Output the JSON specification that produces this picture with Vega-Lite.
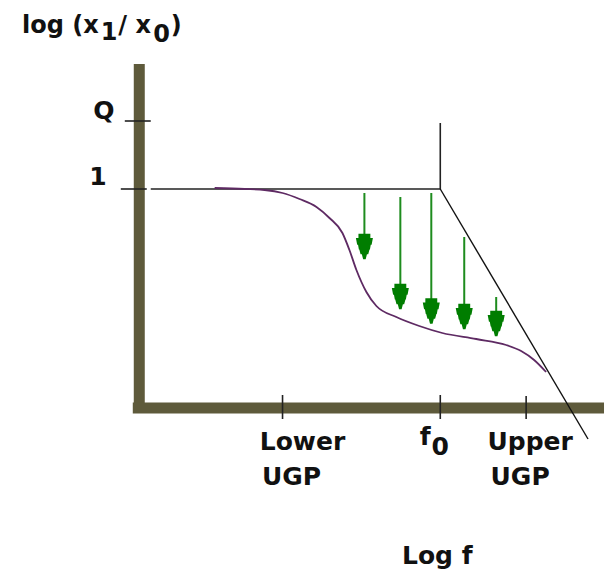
{
  "$schema": "https://vega.github.io/schema/vega-lite/v6.json",
  "width": 610,
  "height": 572,
  "autosize": {"type": "fit", "contains": "padding"},
  "padding": 0,
  "background": "white",
  "config": {"view": {"stroke": null}},
  "datasets": {
    "axes": [
      {"x": 139.5, "y": 64, "x2": 139.5, "y2": 413},
      {"x": 133, "y": 408, "x2": 605, "y2": 408}
    ],
    "thin": [
      {"x": 125, "y": 121, "x2": 151, "y2": 121},
      {"x": 121, "y": 189, "x2": 147, "y2": 189},
      {"x": 151, "y": 189, "x2": 441, "y2": 189},
      {"x": 441, "y": 123, "x2": 441, "y2": 189},
      {"x": 283, "y": 395, "x2": 283, "y2": 419},
      {"x": 441, "y": 395, "x2": 441, "y2": 419},
      {"x": 527, "y": 396, "x2": 527, "y2": 419}
    ],
    "diag": [
      {"x": 441, "y": 189, "x2": 589, "y2": 439}
    ],
    "curve": [
      {"x": 215, "y": 188}, {"x": 245, "y": 189}, {"x": 265, "y": 190},
      {"x": 283, "y": 193}, {"x": 300, "y": 199}, {"x": 317, "y": 207},
      {"x": 330, "y": 218}, {"x": 343, "y": 233}, {"x": 350, "y": 250},
      {"x": 357, "y": 270}, {"x": 367, "y": 292}, {"x": 377, "y": 306},
      {"x": 397, "y": 317}, {"x": 420, "y": 326}, {"x": 443, "y": 333},
      {"x": 477, "y": 339}, {"x": 507, "y": 345}, {"x": 522, "y": 351},
      {"x": 535, "y": 360}, {"x": 547, "y": 372}
    ],
    "stems": [
      {"x": 365, "y": 193, "y2": 236},
      {"x": 401, "y": 197, "y2": 286},
      {"x": 432, "y": 193, "y2": 301},
      {"x": 465, "y": 237, "y2": 306},
      {"x": 497, "y": 297, "y2": 313}
    ],
    "heads": [
      {"x": 365, "y": 246.5},
      {"x": 401, "y": 296.5},
      {"x": 432, "y": 311},
      {"x": 465, "y": 316.5},
      {"x": 497, "y": 323.5}
    ],
    "labels": [
      {"x": 104, "y": 119, "t": "Q"},
      {"x": 98, "y": 185, "t": "1"},
      {"x": 303, "y": 450, "t": "Lower"},
      {"x": 292, "y": 485, "t": "UGP"},
      {"x": 426, "y": 445, "t": "f"},
      {"x": 441, "y": 455, "t": "0"},
      {"x": 531, "y": 450, "t": "Upper"},
      {"x": 521, "y": 485, "t": "UGP"},
      {"x": 438, "y": 564, "t": "Log f"}
    ],
    "title": [
      {"x": 22, "y": 33, "t": "log (x"},
      {"x": 101, "y": 40, "t": "1"},
      {"x": 118.5, "y": 33, "t": "/ x"},
      {"x": 153.5, "y": 42, "t": "0"},
      {"x": 171, "y": 33, "t": ")"}
    ]
  },
  "layer": [
    {
      "data": {"name": "axes"},
      "mark": {"type": "rule", "color": "#5e5a3b", "strokeWidth": 11},
      "encoding": {
        "x": {"field": "x", "type": "quantitative", "scale": {"domain": [0, 610], "nice": false, "zero": false}, "axis": null},
        "y": {"field": "y", "type": "quantitative", "scale": {"domain": [0, 572], "nice": false, "zero": false, "reverse": true}, "axis": null},
        "x2": {"field": "x2"},
        "y2": {"field": "y2"}
      }
    },
    {
      "data": {"name": "thin"},
      "mark": {"type": "rule", "color": "#222222", "strokeWidth": 1.6},
      "encoding": {
        "x": {"field": "x", "type": "quantitative"},
        "y": {"field": "y", "type": "quantitative"},
        "x2": {"field": "x2"},
        "y2": {"field": "y2"}
      }
    },
    {
      "data": {"name": "diag"},
      "mark": {"type": "rule", "color": "#111111", "strokeWidth": 1.4},
      "encoding": {
        "x": {"field": "x", "type": "quantitative"},
        "y": {"field": "y", "type": "quantitative"},
        "x2": {"field": "x2"},
        "y2": {"field": "y2"}
      }
    },
    {
      "data": {"name": "curve"},
      "mark": {"type": "line", "color": "#5e2a63", "strokeWidth": 1.8, "interpolate": "monotone"},
      "encoding": {
        "x": {"field": "x", "type": "quantitative"},
        "y": {"field": "y", "type": "quantitative"}
      }
    },
    {
      "data": {"name": "stems"},
      "mark": {"type": "rule", "color": "#1e8c1e", "strokeWidth": 2},
      "encoding": {
        "x": {"field": "x", "type": "quantitative"},
        "y": {"field": "y", "type": "quantitative"},
        "y2": {"field": "y2"}
      }
    },
    {
      "data": {"name": "heads"},
      "mark": {
        "type": "point",
        "filled": true,
        "color": "#007d00",
        "opacity": 1,
        "size": 289,
        "shape": "M-0.7,-1.5L0.7,-1.5L0.7,-1.0L1,-1.0L0.85,-0.2L0.75,-0.2L0.65,0.35L0.6,0.35L0.45,0.9L0.3,0.9L0.15,1.5L-0.15,1.5L-0.3,0.9L-0.45,0.9L-0.6,0.35L-0.65,0.35L-0.75,-0.2L-0.85,-0.2L-1,-1.0L-0.7,-1.0Z"
      },
      "encoding": {
        "x": {"field": "x", "type": "quantitative"},
        "y": {"field": "y", "type": "quantitative"}
      }
    },
    {
      "data": {"name": "labels"},
      "mark": {"type": "text", "font": "DejaVu Sans", "fontWeight": "bold", "fontSize": 25, "align": "center", "baseline": "alphabetic", "color": "#111111"},
      "encoding": {
        "x": {"field": "x", "type": "quantitative"},
        "y": {"field": "y", "type": "quantitative"},
        "text": {"field": "t"}
      }
    },
    {
      "data": {"name": "title"},
      "mark": {"type": "text", "font": "DejaVu Sans", "fontWeight": "bold", "fontSize": 24, "align": "left", "baseline": "alphabetic", "color": "#111111"},
      "encoding": {
        "x": {"field": "x", "type": "quantitative"},
        "y": {"field": "y", "type": "quantitative"},
        "text": {"field": "t"}
      }
    }
  ]
}
